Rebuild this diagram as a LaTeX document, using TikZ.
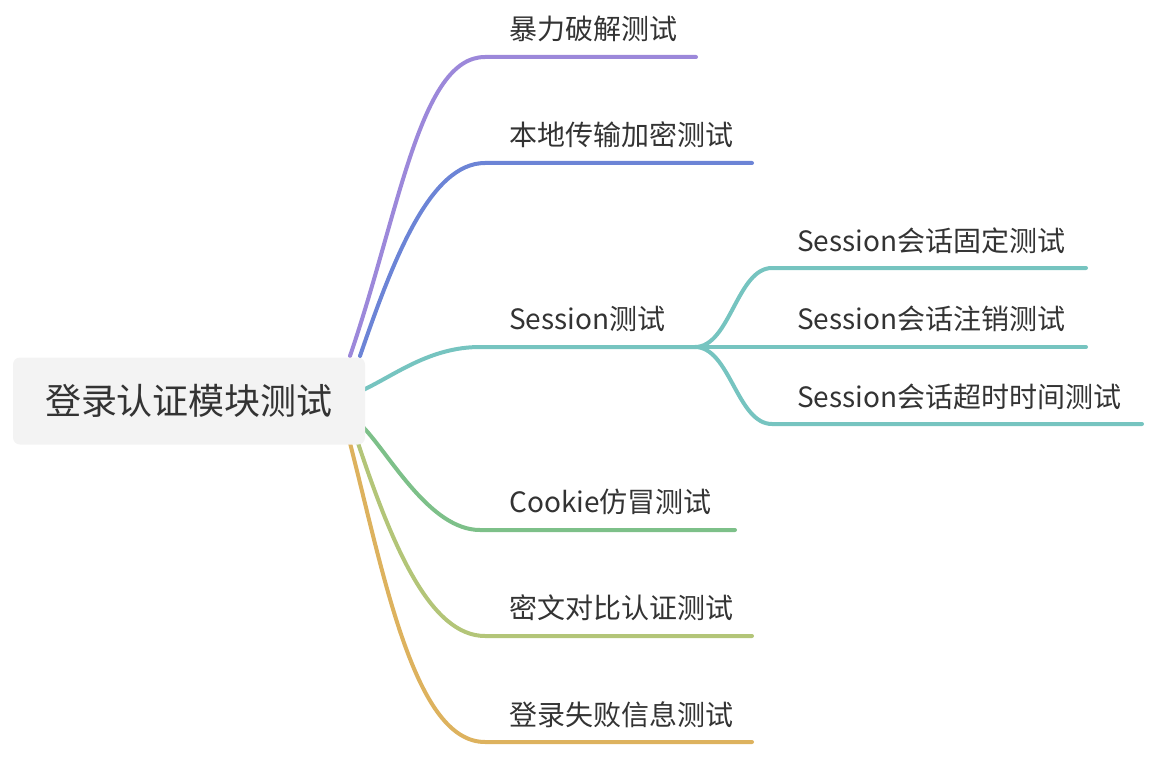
\documentclass[tikz,border=0pt]{standalone}
\usepackage{fontspec}
\setmainfont{Noto Sans CJK SC}
\begin{document}
\begin{tikzpicture}[x=1pt,y=-1pt,
  conn/.style={line width=4pt,line cap=round},
  lbl/.style={anchor=west,inner sep=0pt,text=txt,font=\fontsize{28}{30}\selectfont,text height=0.88em,text depth=0.12em},
  rootbox/.style={fill=rootfill,rounded corners=7pt,minimum width=352pt,minimum height=87pt,inner sep=0pt,text=txt,font=\fontsize{36}{40}\selectfont}]
\definecolor{txt}{RGB}{51,51,51}
\definecolor{rootfill}{RGB}{243,243,243}
\definecolor{cpurple}{RGB}{156,136,218}
\definecolor{cblue}{RGB}{108,132,214}
\definecolor{cteal}{RGB}{118,196,192}
\definecolor{cgreen}{RGB}{125,192,137}
\definecolor{cyg}{RGB}{179,197,120}
\definecolor{corange}{RGB}{221,178,94}
\useasboundingbox (0,0) rectangle (1162,773);
% start points at the root
\coordinate (r1) at (350,356);
\coordinate (r2) at (360,356);
\coordinate (r3) at (363,390);
\coordinate (r4) at (363,427);
\coordinate (r5) at (358,443);
\coordinate (r6) at (350,443);
% branch line starts/ends
\coordinate (b1s) at (485,57);  \coordinate (b1e) at (696,57);
\coordinate (b2s) at (485,163); \coordinate (b2e) at (752,163);
\coordinate (b3s) at (480,347); \coordinate (fork) at (695,347);
\coordinate (b4s) at (480,530); \coordinate (b4e) at (735,530);
\coordinate (b5s) at (485,636); \coordinate (b5e) at (752,636);
\coordinate (b6s) at (485,742); \coordinate (b6e) at (752,742);
\coordinate (s1s) at (772,268); \coordinate (s1e) at (1086,268);
\coordinate (s2e) at (1086,347);
\coordinate (s3s) at (772,424); \coordinate (s3e) at (1142,424);
% connectors
\draw[conn,cpurple] (r1) .. controls (400,210) and (420,57) .. (b1s) -- (b1e);
\draw[conn,cblue] (r2) .. controls (393,260) and (430,163) .. (b2s) -- (b2e);
\draw[conn,cteal] (r3) .. controls (395,375) and (430,347) .. (b3s) -- (fork);
\draw[conn,cteal] (fork) .. controls (730,347) and (737,268) .. (s1s) -- (s1e);
\draw[conn,cteal] (fork) -- (s2e);
\draw[conn,cteal] (fork) .. controls (730,347) and (737,424) .. (s3s) -- (s3e);
\draw[conn,cgreen] (r4) .. controls (390,455) and (430,530) .. (b4s) -- (b4e);
\draw[conn,cyg] (r5) .. controls (392,545) and (430,636) .. (b5s) -- (b5e);
\draw[conn,corange] (r6) .. controls (385,580) and (415,742) .. (b6s) -- (b6e);
% root
\node[rootbox] (root) at (189,401) {登录认证模块测试};
% labels
\node[lbl] (n1) at (509,36) {暴力破解测试};
\node[lbl] (n2) at (509,142) {本地传输加密测试};
\node[lbl] (n3) at (509,326) {Session测试};
\node[lbl] (n4) at (509,509) {Cookie仿冒测试};
\node[lbl] (n5) at (509,615) {密文对比认证测试};
\node[lbl] (n6) at (509,722) {登录失败信息测试};
\node[lbl] (m1) at (797,248) {Session会话固定测试};
\node[lbl] (m2) at (797,326) {Session会话注销测试};
\node[lbl] (m3) at (797,404) {Session会话超时时间测试};
\end{tikzpicture}
\end{document}
